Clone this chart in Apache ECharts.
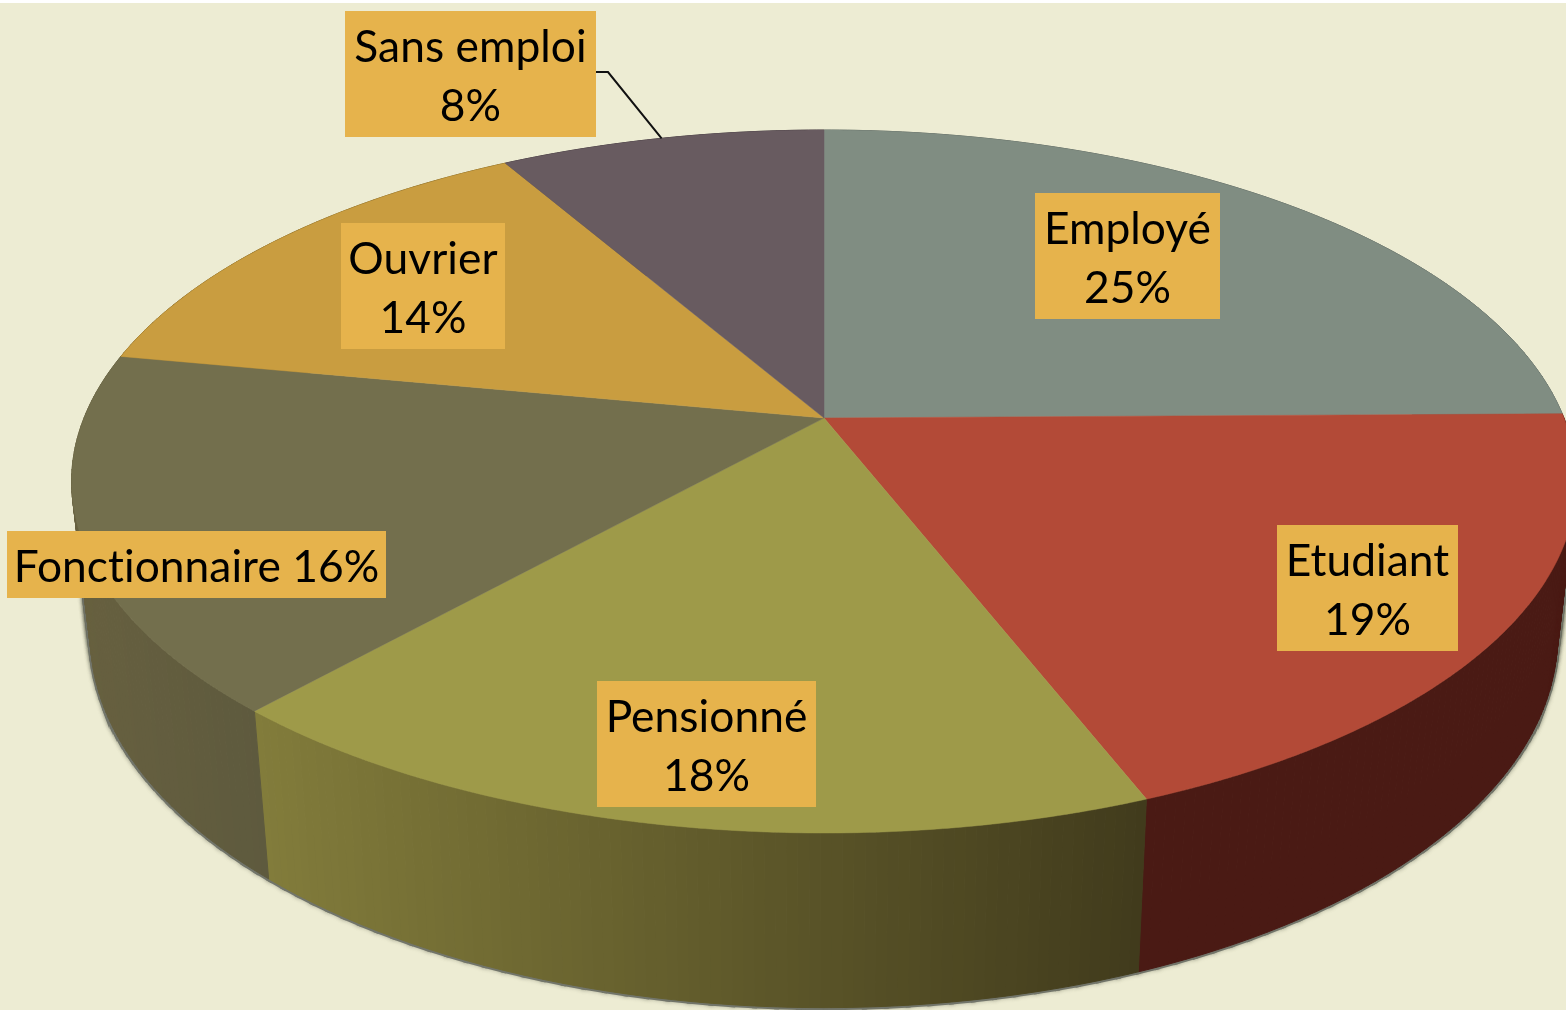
<!DOCTYPE html>
<html>
<head>
<meta charset="utf-8">
<style>html,body{margin:0;padding:0;background:#edecd3}#c{width:1566px;height:1010px}</style>
<script src="https://cdn.jsdelivr.net/npm/echarts@6/dist/echarts.min.js"></script>
</head>
<body>
<div id="c"></div>
<script>
// ---- data (labels show the rounded share) ----
const categories = ['Employé', 'Etudiant', 'Pensionné', 'Fonctionnaire', 'Ouvrier', 'Sans emploi'];
const shares = [24.8, 19.3, 17.5, 16.4, 13.7, 8.3];

// ---- styling ----
const topColors = ['#808d82', '#b34a37', '#9e9a49', '#736f4d', '#c99d40', '#685b60'];
const wallFrom = ['#5a645c', '#4a1a14', '#827c3b', '#67603f', '#7a6020', '#40383b'];
const wallTo = ['#5a645c', '#4a1a14', '#413b1c', '#5e5a3e', '#7a6020', '#40383b'];
const labelFill = '#e6b34c';
const pageFill = '#edecd3';
const labelFont = '44.3px Lato, Carlito, Calibri, sans-serif';
// label boxes: left, top, right, bottom
const labelBoxes = [
  [1035, 193, 1220, 319],
  [1277, 525, 1458, 651],
  [597, 681, 816, 807],
  [7, 531, 386, 598],
  [341, 223, 505, 349],
  [345, 11, 596, 137]
];
const singleLine = [false, false, false, true, false, false];

// ---- tilted-disc projection ----
const cx = 824, cy = 418, A = 740, B = 340, K = 0.1807;
const wallScaleX = 0.975, wallScaleY = 1.057, wallCentreY = 569;
function rim(frac) {
  const a = frac * 2 * Math.PI, u = Math.sin(a), v = -Math.cos(a), d = 1 - K * v;
  return [cx + A * u / d, cy + B * v / d];
}
function lowerRim(frac) {
  const p = rim(frac);
  return [cx + wallScaleX * (p[0] - cx), wallCentreY + wallScaleY * (p[1] - cy)];
}
function shadowRim(frac) {
  const p = rim(frac), q = lowerRim(frac);
  return [p[0] + (q[0] - p[0]) * 0.6, p[1] + (q[1] - p[1]) * 0.6];
}
const total = shares.reduce((s, v) => s + v, 0);
function range(i) {
  let s = 0;
  for (let k = 0; k < i; k++) s += shares[k];
  return [s / total, (s + shares[i]) / total];
}
function arc(fn, from, to, step) {
  const n = Math.max(2, Math.ceil((to - from) / step)), pts = [];
  for (let j = 0; j <= n; j++) pts.push(fn(from + (to - from) * j / n));
  return pts;
}
function hex(c) { return [1, 3, 5].map(o => parseInt(c.substr(o, 2), 16)); }
function mix(a, b, t) {
  const x = hex(a), y = hex(b);
  return 'rgb(' + x.map((v, i) => Math.round(v + (y[i] - v) * t)).join(',') + ')';
}

function renderShadow(params) {
  const i = params.dataIndex, r = range(i), children = [];
  const from = Math.max(r[0], 0.25), to = Math.min(r[1], 0.75);
  if (to <= from) return { type: 'group', children: [] };
  const up = arc(shadowRim, from, to, 0.004), low = arc(lowerRim, from, to, 0.004);
  for (let j = 0; j < up.length - 1; j++) {
    children.push({
      type: 'polygon',
      shape: { points: [up[j], up[j + 1], low[j + 1], low[j]] },
      style: { fill: '#72756a', stroke: '#72756a', lineWidth: 5, shadowBlur: 4, shadowColor: 'rgba(110,112,95,0.4)' }
    });
  }
  return { type: 'group', children: children };
}
function renderWall(params) {
  const i = params.dataIndex, r = range(i), children = [];
  const up = arc(rim, r[0], r[1], 0.002), low = arc(lowerRim, r[0], r[1], 0.002);
  const xs = up.map(p => p[0]);
  const xMin = Math.min.apply(null, xs), xMax = Math.max.apply(null, xs);
  for (let j = 0; j < up.length - 1; j++) {
    const t = ((up[j][0] + up[j + 1][0]) / 2 - xMin) / Math.max(1, xMax - xMin);
    const col = mix(wallFrom[i], wallTo[i], t);
    children.push({
      type: 'polygon',
      shape: { points: [up[j], up[j + 1], low[j + 1], low[j]] },
      style: { fill: col, stroke: col, lineWidth: 1 }
    });
  }
  return { type: 'group', children: children };
}
function renderTop(params) {
  const i = params.dataIndex, r = range(i);
  return {
    type: 'polygon',
    shape: { points: [[cx, cy]].concat(arc(rim, r[0], r[1], 0.001)) },
    style: { fill: topColors[i], stroke: topColors[i], lineWidth: 0.5 }
  };
}
function renderLabel(params, api) {
  const i = params.dataIndex, b = labelBoxes[i], kids = [];
  const pct = Math.round(api.value(0)) + '%';
  const mx = (b[0] + b[2]) / 2, my = (b[1] + b[3]) / 2;
  if (i === 5) {
    const r = range(i), end = rim((r[0] + r[1]) / 2);
    kids.push({
      type: 'polyline',
      shape: { points: [[b[2], 72], [608, 72], end] },
      style: { fill: 'none', stroke: '#111', lineWidth: 2 }
    });
  }
  kids.push({
    type: 'rect',
    shape: { x: b[0], y: b[1], width: b[2] - b[0], height: b[3] - b[1] },
    style: { fill: labelFill }
  });
  const txt = (t, y) => ({
    type: 'text',
    style: { text: t, x: mx, y: y, font: labelFont, fill: '#000', align: 'center', verticalAlign: 'middle' }
  });
  if (singleLine[i]) kids.push(txt(categories[i] + ' ' + pct, my + 3));
  else kids.push(txt(categories[i], my - 26.5), txt(pct, my + 32.5));
  return { type: 'group', children: kids };
}

const seriesData = categories.map((n, i) => ({ name: n, value: [shares[i]] }));
const layer = (name, fn) => ({
  type: 'custom', name: name, coordinateSystem: 'none', renderItem: fn,
  data: seriesData, silent: true, animation: false
});
const option = {
  backgroundColor: pageFill,
  animation: false,
  graphic: [{ type: 'rect', left: 0, top: 0, shape: { width: 1566, height: 3 }, style: { fill: '#ffffff' }, silent: true }],
  series: [
    layer('Ombre', renderShadow),
    layer('Parois', renderWall),
    layer('Secteurs', renderTop),
    layer('Étiquettes', renderLabel)
  ]
};
const chart = echarts.init(document.getElementById('c'), null, { renderer: 'canvas' });
chart.setOption(option);
// the reference's typeface has no "ti" ligature: a tiny letter spacing switches it off
const cv = chart.getDom().querySelector('canvas');
if (cv) {
  cv.getContext('2d').letterSpacing = '0.05px';
  chart.clear();
  chart.setOption(option);
}
</script>
</body>
</html>
